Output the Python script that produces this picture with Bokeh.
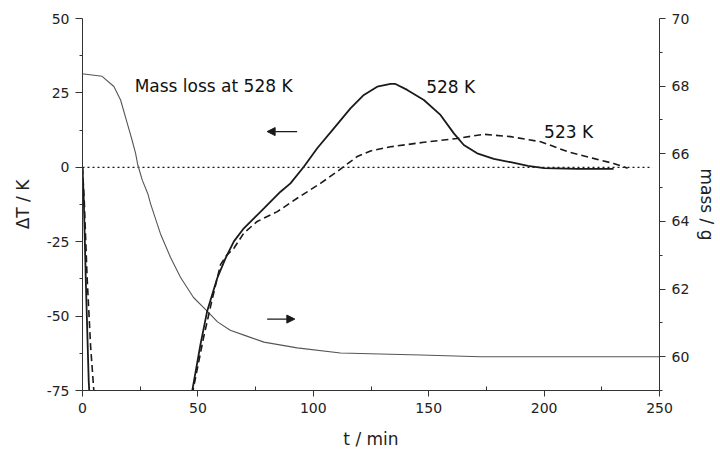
from bokeh.plotting import figure
from bokeh.models import Range1d, LinearAxis, FixedTicker, Label, Arrow, NormalHead
from bokeh.embed import file_html
from bokeh.resources import INLINE

# ---- data ----
# 528 K, solid: initial drop off-scale, then recovery
t_528_drop = [0, 0.6, 1.5, 2.7, 3.3]
dT_528_drop = [0, -12, -40, -72, -80]
t_528 = [46.5, 47.5, 51.1, 54.0, 58.4, 62.0, 65.6, 69.9, 78.6, 85.8, 90.1, 95.9,
         101.7, 108.9, 116.1, 121.9, 127.7, 133.5, 135.6, 140.7, 147.9, 155.1,
         160.9, 165.2, 171.0, 178.2, 185.5, 193.0, 200.0, 214.5, 230.1]
dT_528 = [-80, -75.3, -59.6, -48.4, -37.2, -30.5, -24.9, -20.5, -13.8, -8.2, -5.4, 0.2,
          6.4, 13.1, 19.8, 24.3, 27.1, 28.0, 28.0, 26.0, 22.6, 17.6,
          11.4, 7.5, 4.7, 2.8, 1.7, 0.5, -0.3, -0.5, -0.5]

# 523 K, dashed
t_523_drop = [0, 0.8, 2.0, 3.5, 4.9, 5.2]
dT_523_drop = [0, -12, -37, -60, -75, -80]
t_523 = [46.3, 47.8, 52.4, 56.0, 59.8, 62.5, 65.6, 69.9, 75.7, 84.4, 93.0, 103.1,
         110.4, 119.0, 124.8, 133.5, 147.9, 162.4, 173.9, 185.5, 198.5, 210.0,
         221.4, 230.1, 236.2]
dT_523 = [-80, -75.3, -57.4, -45.0, -32.7, -29.5, -27.2, -22.1, -18.2, -14.9, -10.4, -5.4,
          -1.4, 3.6, 5.5, 6.9, 8.4, 9.7, 11.1, 10.3, 8.6, 5.3,
          3.0, 1.3, -0.3]

# mass loss at 528 K (right axis)
t_mass = [0, 0.6, 8.5, 13.6, 16.5, 19.4, 21.5, 23.0, 24.0, 25.9, 28.3, 29.5, 33.8,
          38.1, 42.5, 48.1, 54.0, 58.5, 64.0, 71.5, 78.6, 93.0, 111.8, 146.5, 172.5, 250]
mass = [68.36, 68.36, 68.29, 67.99, 67.59, 66.90, 66.40, 66.01, 65.66, 65.22, 64.82,
        64.52, 63.63, 62.94, 62.34, 61.75, 61.35, 61.03, 60.78, 60.6, 60.43, 60.26,
        60.11, 60.05, 60.0, 60.0]

# zero reference line
t_zero = [0, 247]
dT_zero = [0, 0]

# ticks
x_ticks = [0, 50, 100, 150, 200, 250]
x_minor = [25, 75, 125, 175, 225]
y_ticks = [-75, -50, -25, 0, 25, 50]
y_minor = [-62.5, -37.5, -12.5, 12.5, 37.5]
m_ticks = [60, 62, 64, 66, 68, 70]
m_minor = [59, 61, 63, 65, 67, 69]

FONT = "DejaVu Sans"
INK = "#1a1a1a"

p = figure(width=720, height=452, output_backend="svg", toolbar_location=None,
           x_range=Range1d(0, 250), y_range=Range1d(-75, 50),
           min_border_left=82, min_border_right=61, min_border_top=18, min_border_bottom=62)
p.extra_y_ranges = {"mass": Range1d(59, 70)}
p.outline_line_color = None
p.xgrid.visible = False
p.ygrid.visible = False
p.background_fill_color = "white"
p.border_fill_color = "white"

# lines
p.line(t_zero, dT_zero, line_color=INK, line_width=1.2, line_dash="2 3")
p.line(t_mass, mass, y_range_name="mass", line_color="#555555", line_width=1.1)
p.line(t_528_drop, dT_528_drop, line_color=INK, line_width=1.8)
p.line(t_528, dT_528, line_color=INK, line_width=1.8)
p.line(t_523_drop, dT_523_drop, line_color=INK, line_width=1.6, line_dash="7 4")
p.line(t_523, dT_523, line_color=INK, line_width=1.6, line_dash="7 4")

# axes styling
def style(ax, ticks, minor, tick_out=6, minor_out=3, minor_in=0):
    ax.ticker = FixedTicker(ticks=ticks, minor_ticks=minor)
    ax.major_label_overrides = {v: str(v) for v in ticks}
    ax.axis_line_color = "#333333"
    ax.axis_line_width = 1
    ax.major_tick_line_color = "#333333"
    ax.minor_tick_line_color = "#333333"
    ax.major_tick_in = 0
    ax.major_tick_out = tick_out
    ax.minor_tick_in = minor_in
    ax.minor_tick_out = minor_out
    ax.major_label_text_font = FONT
    ax.major_label_text_font_size = "14px"
    ax.major_label_text_color = "#222222"
    ax.major_label_standoff = 6
    ax.axis_label_text_font = FONT
    ax.axis_label_text_font_size = "17px"
    ax.axis_label_text_font_style = "normal"
    ax.axis_label_text_color = "#222222"

xa = p.xaxis[0]
style(xa, x_ticks, x_minor, tick_out=6, minor_out=0, minor_in=4)
xa.axis_label = "t / min"
xa.axis_label_standoff = 13

ya = p.yaxis[0]
style(ya, y_ticks, y_minor, tick_out=7, minor_out=3)
ya.axis_label = "ΔT / K"
ya.axis_label_standoff = 11

ra = LinearAxis(y_range_name="mass")
style(ra, m_ticks, m_minor, tick_out=6, minor_out=3)
ra.axis_label = "mass / g"
ra.axis_label_standoff = 5
p.add_layout(ra, "right")

# annotations
for txt, x, y in [("Mass loss at 528 K", 56.8, 27.4), ("528 K", 159.5, 27.1), ("523 K", 210.6, 12.0)]:
    p.add_layout(Label(x=x, y=y, text=txt, text_font=FONT, text_font_size="17px",
                       text_color="#111111", text_align="center", text_baseline="middle"))

p.add_layout(Arrow(end=NormalHead(size=8, fill_color=INK, line_color=INK),
                   x_start=93, y_start=12, x_end=80, y_end=12,
                   line_color=INK, line_width=1.2))
p.add_layout(Arrow(end=NormalHead(size=8, fill_color=INK, line_color=INK),
                   x_start=80, y_start=-51, x_end=92, y_end=-51,
                   line_color=INK, line_width=1.2))

open("out.html", "w").write(file_html(p, INLINE))
